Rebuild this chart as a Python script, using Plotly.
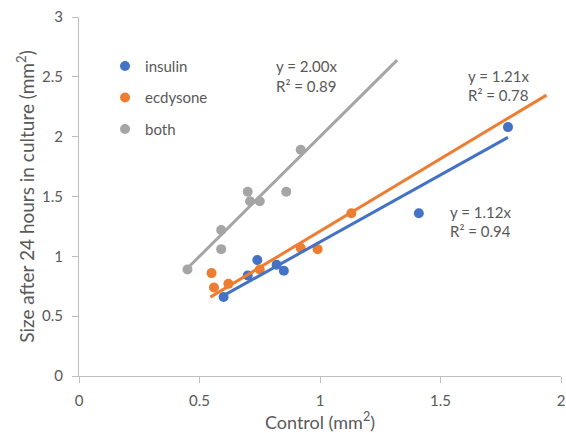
import plotly.graph_objects as go

# Data
insulin_x = [0.60, 0.70, 0.74, 0.82, 0.85, 1.41, 1.78]
insulin_y = [0.66, 0.84, 0.97, 0.93, 0.88, 1.36, 2.08]
ecdysone_x = [0.55, 0.56, 0.62, 0.75, 0.92, 0.99, 1.13]
ecdysone_y = [0.86, 0.74, 0.77, 0.89, 1.07, 1.06, 1.36]
both_x = [0.45, 0.59, 0.59, 0.70, 0.71, 0.75, 0.86, 0.92]
both_y = [0.89, 1.22, 1.06, 1.54, 1.46, 1.46, 1.54, 1.89]

series_names = ["insulin", "ecdysone", "both"]
slopes = [1.12, 1.21, 2.00]
r2_values = [0.94, 0.78, 0.89]
trend_ranges = [[0.59, 1.78], [0.545, 1.94], [0.45, 1.32]]

x_ticks = [0, 0.5, 1, 1.5, 2]
y_ticks = [0, 0.5, 1, 1.5, 2, 2.5, 3]

colors = ["#4472C4", "#ED7D31", "#A5A5A5"]
text_color = "#595959"
font_family = "Lato"

xs = [insulin_x, ecdysone_x, both_x]
ys = [insulin_y, ecdysone_y, both_y]

fig = go.Figure()
for i, name in enumerate(series_names):
    fig.add_trace(go.Scatter(
        x=xs[i], y=ys[i], mode="markers", name=name,
        legendgroup=name,
        marker=dict(color=colors[i], size=10),
    ))
for i, name in enumerate(series_names):
    tx = trend_ranges[i]
    ty = [slopes[i] * v for v in tx]
    fig.add_trace(go.Scatter(
        x=tx, y=ty, mode="lines", showlegend=False,
        line=dict(color=colors[i], width=3), hoverinfo="skip",
    ))

# equation label positions (data coords: left x, first-line y, second-line y)
label_pos = {0: (1.531, 1.37, 1.21), 1: (1.606, 2.506, 2.35), 2: (0.809, 2.59, 2.42)}
for i in range(3):
    x0, y1, y2 = label_pos[i]
    fig.add_annotation(
        x=x0, y=y1, xref="x", yref="y", xanchor="left", yanchor="middle",
        text=f"y = {slopes[i]:.2f}x", showarrow=False, align="left",
        font=dict(family=font_family, size=15, color=text_color),
    )
    fig.add_annotation(
        x=x0, y=y2, xref="x", yref="y", xanchor="left", yanchor="middle",
        text=f"R² = {r2_values[i]:.2f}", showarrow=False, align="left",
        font=dict(family=font_family, size=15, color=text_color),
    )

axis_common = dict(
    showgrid=False, zeroline=False, showline=True, linecolor="#BFBFBF",
    linewidth=1, ticks="outside", ticklen=6, tickcolor="#BFBFBF",
    tickfont=dict(family=font_family, size=15, color=text_color),
    automargin=False,
)
fig.update_xaxes(range=[0, 2], tickvals=x_ticks,
                 ticktext=[f"{v:g}" for v in x_ticks],
                 ticklabelstandoff=5,
                 title=dict(text="Control (mm<sup>2</sup>)", standoff=12,
                            font=dict(family=font_family, size=18, color=text_color)),
                 **axis_common)
fig.update_yaxes(range=[0, 3], tickvals=y_ticks,
                 ticktext=[f"{v:g}" for v in y_ticks],
                 ticklabelstandoff=6,
                 title=dict(text="Size after 24 hours in culture (mm<sup>2</sup>)", standoff=2,
                            font=dict(family=font_family, size=19, color=text_color)),
                 **axis_common)

fig.update_layout(
    width=566, height=433,
    margin=dict(l=79, r=5, t=17, b=57),
    paper_bgcolor="white", plot_bgcolor="white",
    font=dict(family=font_family, color=text_color),
    legend=dict(x=0.054, y=0.909, xanchor="left", yanchor="top",
                font=dict(family=font_family, size=15, color=text_color),
                bgcolor="rgba(0,0,0,0)", tracegroupgap=9,
                itemwidth=30, traceorder="grouped"),
)

fig.write_html("out.html", config={"displayModeBar": False},
               post_script="document.body.style.margin='0';document.body.style.overflow='hidden';")
